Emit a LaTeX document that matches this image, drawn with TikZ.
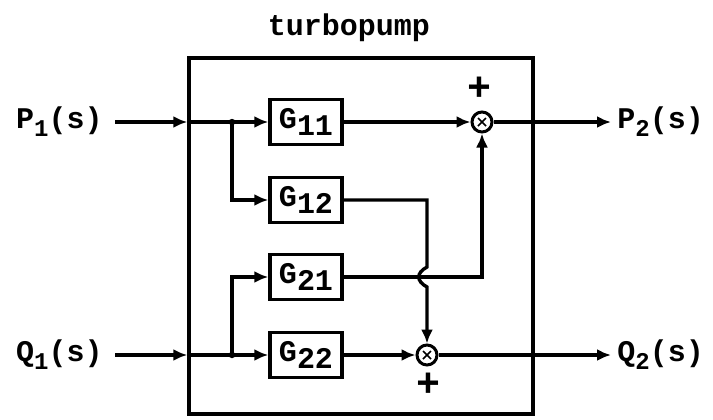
\documentclass[tikz,border=0pt]{standalone}
\usepackage{fontspec}
\setmonofont{Liberation Mono}
\usetikzlibrary{arrows.meta,calc,positioning}
\newcommand{\gsub}[1]{\raisebox{-0.45ex}{#1}}
\newcommand{\psub}[1]{\raisebox{-0.5ex}{\fontsize{12}{12}\selectfont #1}}
\tikzset{
  txt/.style   = {font=\ttfamily\bfseries\fontsize{15}{16}\selectfont, inner sep=0pt},
  blk/.style   = {rectangle, draw, line width=1.7pt, minimum width=36pt,
                  minimum height=22.5pt, inner sep=0pt, txt},
  sumj/.style  = {circle, draw, line width=1.5pt, minimum size=10pt, inner sep=0pt,
                  path picture={
                    \draw[line width=0.8pt] (path picture bounding box.center)
                      +(-2pt,-2pt) -- +(2pt,2pt) +(-2pt,2pt) -- +(2pt,-2pt);}},
  plus/.style  = {font=\ttfamily\bfseries\fontsize{20}{20}\selectfont, inner sep=0pt},
  wire/.style  = {line width=1.7pt},
  sig/.style   = {-{Latex[length=7pt,width=6pt]}, line width=1.7pt},
  tap/.style   = {circle, fill, inner sep=0pt, minimum size=3.2pt},
}
\begin{document}
\begin{tikzpicture}[x=0.5pt, y=-0.5pt]
  \useasboundingbox (0,0) rectangle (713,419);

  % turbopump housing
  \node[draw, line width=1.7pt, minimum width=172pt, minimum height=178pt,
        inner sep=0pt] (pump) at (361,236) {};
  \node[txt] (title) at (349,28) {turbopump};

  % transfer blocks
  \node[blk] (g11) at (306,122) {G\gsub{11}};
  \node[blk] (g12) at (306,200) {G\gsub{12}};
  \node[blk] (g21) at (306,277) {G\gsub{21}};
  \node[blk] (g22) at (306,355) {G\gsub{22}};

  % summing points
  \node[sumj] (sump) at (482,122) {};
  \node[sumj] (sumq) at (427,355) {};
  \node[plus] (plusp) at (479,89) {+};
  \node[plus] (plusq) at (428,385) {+};

  % signals in / out
  \node[txt, anchor=east] (pin)  at (103,122) {P\psub{1}(s)};
  \node[txt, anchor=east] (qin)  at (103,355) {Q\psub{1}(s)};
  \node[txt, anchor=west] (pout) at (617,122) {P\psub{2}(s)};
  \node[txt, anchor=west] (qout) at (617,355) {Q\psub{2}(s)};

  \coordinate (bp) at (232,122);
  \coordinate (bq) at (232,355);
  \node[tap] at (bp) {};
  \node[tap] at (bq) {};

  % inputs
  \draw[sig, shorten <=6pt] (pin.east) -- (pump.west |- pin);
  \draw[wire] (pump.west |- pin) -- (bp);
  \draw[sig] (bp) -- (g11);
  \draw[sig] (bp) |- (g12);

  \draw[sig, shorten <=6pt] (qin.east) -- (pump.west |- qin);
  \draw[wire] (pump.west |- qin) -- (bq);
  \draw[sig] (bq) -- (g22);
  \draw[sig] (bq) |- (g21);

  % block outputs
  \draw[sig] (g11) -- (sump);
  \draw[sig] (g21) -| (sump);
  \draw[sig] (g22) -- (sumq);
  \draw[sig] (g12.east) -| ($(sumq |- g21)+(0,-10)$)
        .. controls ($(sumq |- g21)+(-11,-4)$) and ($(sumq |- g21)+(-11,4)$)
        .. ($(sumq |- g21)+(0,10)$) -- (sumq);

  % outputs
  \draw[sig, shorten >=3pt] (sump) -- (pout);
  \draw[sig, shorten >=3pt] (sumq) -- (qout);
\end{tikzpicture}
\end{document}
